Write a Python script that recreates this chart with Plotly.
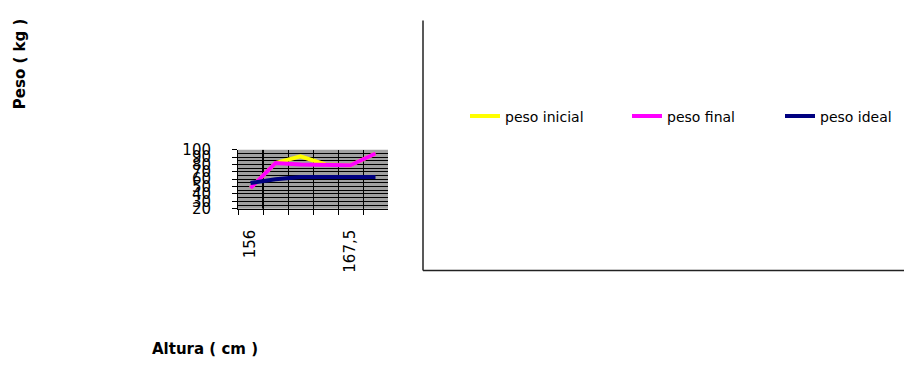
import plotly.graph_objects as go

# Height categories (cm) and weight series (kg)
alturas = [156, 158, 161, 164, 167.5, 170]
altura_labels = ["156", "", "", "", "167,5", ""]
peso_inicial = [48, 82, 91, 80, 79, 95]
peso_final = [48, 82, 80, 79, 79, 95]
peso_ideal = [55, 60, 63, 63, 63, 63]

W, H = 904, 368
cats = [str(a) for a in alturas]

def px(x):
    return x / W

def py(y):
    return 1 - y / H

fig = go.Figure()
series = [
    ("peso inicial", peso_inicial, "#ffff00", "legend"),
    ("peso final", peso_final, "#ff00ff", "legend2"),
    ("peso ideal", peso_ideal, "#000080", "legend3"),
]
for name, vals, color, leg in series:
    fig.add_trace(go.Scatter(
        x=cats, y=vals, name=name, mode="lines",
        line=dict(color=color, width=4), legend=leg,
    ))

legend_style = dict(
    orientation="h", yanchor="middle", xanchor="left",
    font=dict(family="DejaVu Sans", size=14, color="#000000"),
    bgcolor="rgba(0,0,0,0)", borderwidth=0,
)

fig.update_layout(
    width=W, height=H,
    margin=dict(l=0, r=0, t=0, b=0),
    paper_bgcolor="#ffffff",
    plot_bgcolor="#a0a0a0",
    font=dict(family="DejaVu Sans", color="#000000"),
    showlegend=True,
    legend=dict(legend_style, x=px(465), y=py(113)),
    legend2=dict(legend_style, x=px(627), y=py(113)),
    legend3=dict(legend_style, x=px(780), y=py(113)),
    xaxis=dict(
        domain=[px(238), px(388)],
        type="category",
        tickmode="array", tickvals=cats, ticktext=altura_labels,
        tickson="boundaries",
        ticks="outside", ticklen=5, tickcolor="#000000",
        tickangle=-90,
        tickfont=dict(family="DejaVu Sans", size=15, color="#000000"),
        ticklabelstandoff=14,
        showgrid=True, gridcolor="#000000", gridwidth=1,
        showline=True, linecolor="#000000", linewidth=1,
        zeroline=False,
        range=[-0.5, 5.5],
    ),
    yaxis=dict(
        domain=[py(210), py(148)],
        range=[20, 100], dtick=10, tick0=20,
        ticks="outside", ticklen=5, tickcolor="#000000",
        tickfont=dict(family="DejaVu Sans", size=15, color="#000000"),
        ticklabelstandoff=18,
        showgrid=True, gridcolor="#000000", gridwidth=1,
        minor=dict(dtick=5, showgrid=True, gridcolor="#000000", gridwidth=1),
        showline=True, linecolor="#000000", linewidth=1,
        zeroline=False,
    ),
    annotations=[
        dict(text="<b>Peso ( kg )</b>", x=px(20), y=py(58), xref="paper", yref="paper",
             xanchor="center", yanchor="middle",
             textangle=-90, showarrow=False,
             font=dict(family="DejaVu Sans", size=15, color="#000000")),
        dict(text="<b>Altura ( cm )</b>", x=px(205), y=py(357), xref="paper", yref="paper",
             xanchor="center", yanchor="middle",
             showarrow=False,
             font=dict(family="DejaVu Sans", size=15, color="#000000")),
    ],
    shapes=[
        # heavier separator between the first two height categories
        dict(type="line", xref="x", yref="y", x0=0.5, x1=0.5, y0=20, y1=100,
             line=dict(color="#000000", width=2), layer="below"),
        # legend frame
        dict(type="line", xref="paper", yref="paper", x0=px(423), x1=px(423),
             y0=py(12), y1=py(275), line=dict(color="#222222", width=1.5)),
        dict(type="line", xref="paper", yref="paper", x0=px(423), x1=1,
             y0=py(275), y1=py(275), line=dict(color="#222222", width=1.5)),
    ],
)

fig.write_html("out.html")
